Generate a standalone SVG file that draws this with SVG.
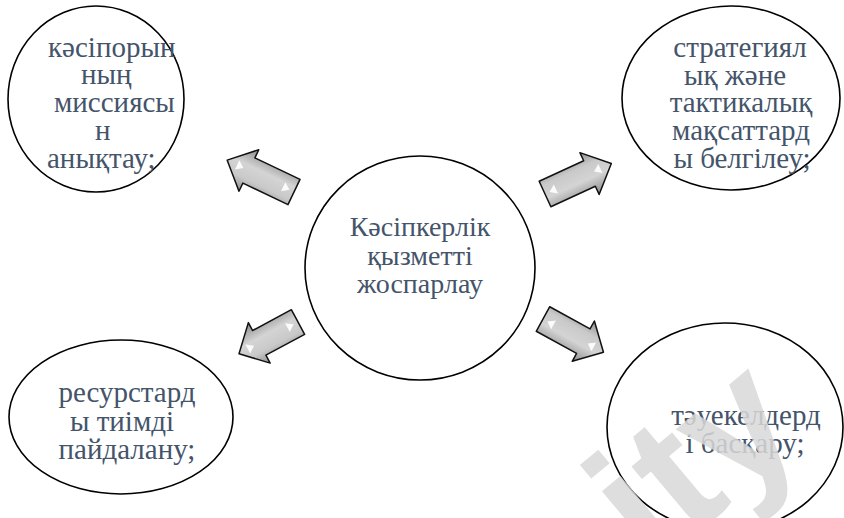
<svg xmlns="http://www.w3.org/2000/svg" width="844" height="518" viewBox="0 0 844 518">
<defs>
<linearGradient id="ag" x1="0" y1="0" x2="0" y2="1">
<stop offset="0" stop-color="#8e8e8e"/>
<stop offset="0.3" stop-color="#c9c9c9"/>
<stop offset="0.6" stop-color="#d4d4d4"/>
<stop offset="1" stop-color="#8a8a8a"/>
</linearGradient>
<polygon id="hl" points="0,0 7,-5 7,5" fill="#fff" opacity="0.9"/>
</defs>
<g id="connectors" fill="url(#ag)" stroke="#111" stroke-width="1.5" stroke-linejoin="round">
<g transform="translate(294,192) rotate(205.5)"><polygon points="0,-14 50,-14 50,-23 74,0 50,23 50,14 0,14"/><use href="#hl" x="5" stroke="none"/><use href="#hl" x="56" stroke="none"/></g>
<g transform="translate(545,194) rotate(-24.7)"><polygon points="0,-14 49,-14 49,-23 73,0 49,23 49,14 0,14"/><use href="#hl" x="5" stroke="none"/><use href="#hl" x="54" stroke="none"/></g>
<g transform="translate(298,322) rotate(151.7)"><polygon points="0,-14 44,-14 44,-23 67,0 44,23 44,14 0,14"/><use href="#hl" x="5" stroke="none"/><use href="#hl" x="50" stroke="none"/></g>
<g transform="translate(543,319) rotate(28.8)"><polygon points="0,-14 46,-14 46,-23 69,0 46,23 46,14 0,14"/><use href="#hl" x="5" stroke="none"/><use href="#hl" x="51" stroke="none"/></g>
</g>
<g id="center">
<ellipse cx="420" cy="268" rx="115" ry="112" fill="#fff" stroke="#000" stroke-width="1.6"/>
<text font-family="Liberation Serif" font-size="28" fill="#44546A" text-anchor="middle" x="420" y="236">Кәсіпкерлік</text>
<text font-family="Liberation Serif" font-size="28" fill="#44546A" text-anchor="middle" x="420" y="265">қызметті</text>
<text font-family="Liberation Serif" font-size="28" fill="#44546A" text-anchor="middle" x="420" y="293">жоспарлау</text>
</g>
<g id="mission">
<ellipse cx="96" cy="99" rx="88" ry="93" fill="#fff" stroke="#000" stroke-width="1.6"/>
<text font-family="Liberation Serif" font-size="29" fill="#44546A" x="48" y="57">кәсіпорын</text>
<text font-family="Liberation Serif" font-size="29" fill="#44546A" x="81" y="84">ның</text>
<text font-family="Liberation Serif" font-size="29" fill="#44546A" x="54" y="112">миссиясы</text>
<text font-family="Liberation Serif" font-size="29" fill="#44546A" x="95" y="140">н</text>
<text font-family="Liberation Serif" font-size="29" fill="#44546A" x="47" y="168">анықтау;</text>
</g>
<g id="goals" fill="#44546A" text-anchor="middle" font-size="29">
<ellipse cx="731" cy="98" rx="109" ry="92" fill="#fff" stroke="#000" stroke-width="1.6"/>
<text font-family="Liberation Serif" x="740" y="57">стратегиял</text>
<text font-family="Liberation Serif" x="735" y="85">ық және</text>
<text font-family="Liberation Serif" x="741" y="112">тактикалық</text>
<text font-family="Liberation Serif" x="741" y="140">мақсаттард</text>
<text font-family="Liberation Serif" x="742" y="168">ы белгілеу;</text>
</g>
<g id="resources">
<ellipse cx="121" cy="417" rx="112" ry="77" fill="#fff" stroke="#000" stroke-width="1.6"/>
</g>
<text font-family="Liberation Serif" font-size="29" fill="#44546A" text-anchor="middle" x="127" y="402">ресурстард</text>
<text font-family="Liberation Serif" font-size="29" fill="#44546A" text-anchor="middle" x="122" y="431">ы тиімді</text>
<text font-family="Liberation Serif" font-size="29" fill="#44546A" text-anchor="middle" x="127" y="459">пайдалану;</text>
<g id="risks">
<ellipse cx="725" cy="427" rx="118" ry="104" fill="#fff" stroke="#000" stroke-width="1.6"/>
<text font-family="Times New Roman" font-size="29" fill="#44546A" text-anchor="middle" x="746" y="425">тәуекелдерд</text>
<text font-family="Times New Roman" font-size="29" fill="#44546A" text-anchor="middle" x="745" y="453">і басқару;</text>
</g>
<text font-family="Liberation Sans" font-weight="bold" font-size="175" fill="#d9d9d9" opacity="0.85" transform="translate(652,570) rotate(-40)">ity</text>
</svg>
